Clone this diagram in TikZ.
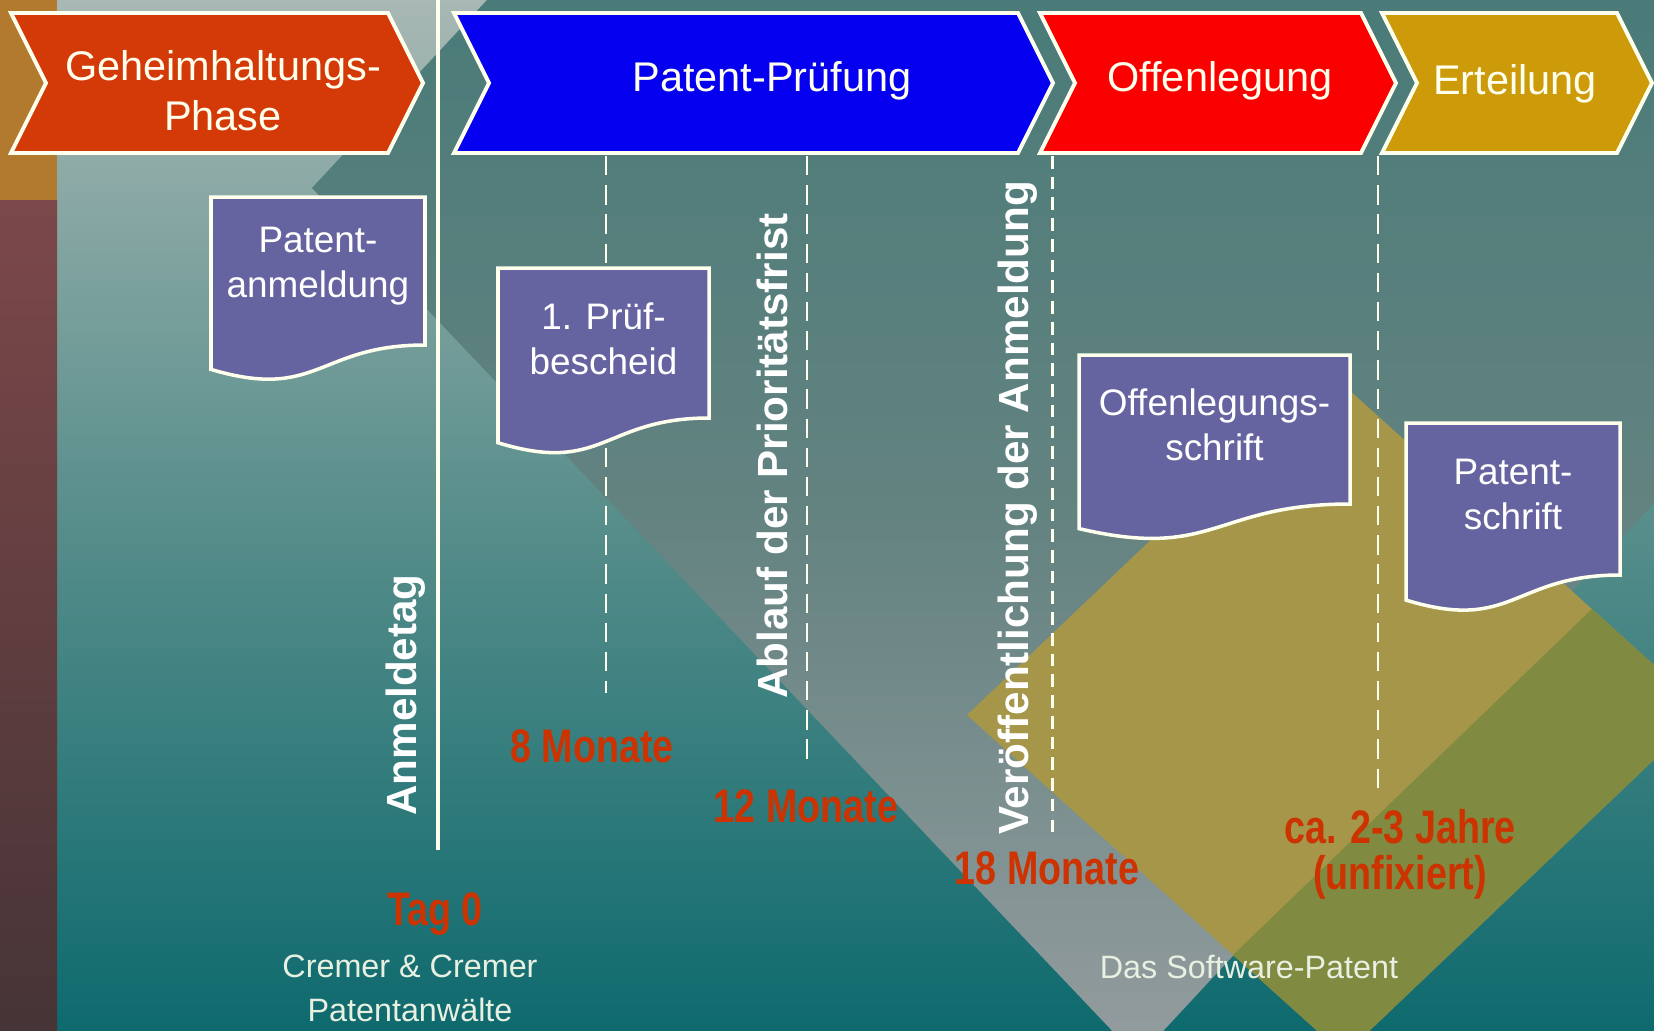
\documentclass[tikz,border=0pt]{standalone}
\usepackage{fontspec}
\setmainfont{Liberation Sans}
\usetikzlibrary{positioning}
\definecolor{cream}{RGB}{255,255,238}
\definecolor{bgTop}{RGB}{168,184,180}
\definecolor{bgMid}{RGB}{88,142,139}
\definecolor{bgLow}{RGB}{14,106,110}
\definecolor{grayTop}{RGB}{74,123,120}
\definecolor{grayMid}{RGB}{100,131,129}
\definecolor{grayLow}{RGB}{148,156,158}
\definecolor{goldBand}{RGB}{166,150,74}
\definecolor{oliveBand}{RGB}{128,138,64}
\definecolor{stripOrange}{RGB}{178,122,46}
\definecolor{stripTop}{RGB}{124,72,74}
\definecolor{stripLow}{RGB}{70,52,54}
\definecolor{phaseOrange}{RGB}{212,58,8}
\definecolor{phaseBlue}{RGB}{6,0,240}
\definecolor{phaseRed}{RGB}{250,0,0}
\definecolor{phaseGold}{RGB}{205,155,10}
\definecolor{docFill}{RGB}{102,100,160}
\definecolor{monthRed}{RGB}{204,51,0}
\definecolor{footGray}{RGB}{232,240,226}

\newcommand{\narrow}[1]{\scalebox{0.8}[1]{#1}}

% chevron: name, left, right, fill, text x, text y, text
\newcommand{\phasebox}[7]{%
  \fill[#4, draw=cream, line width=1.1pt]
    (#2,-0.13) -- (#3,-0.13) -- ({#3+0.35},-0.83) -- (#3,-1.53)
    -- (#2,-1.53) -- ({#2+0.35},-0.83) -- cycle;
  \node[phasetext] (#1) at (#5,#6) {#7};
}

% document shape: name, left, top, width, text height, text
\newcommand{\docbox}[6]{%
  \pgfmathsetmacro{\docR}{#2+#4}
  \pgfmathsetmacro{\docM}{#2+0.5*#4}
  \pgfmathsetmacro{\docB}{#3-#5}
  \pgfmathsetmacro{\docL}{#3-1.165*#5}
  \pgfmathsetmacro{\docC}{#3-1.380*#5}
  \pgfmathsetmacro{\docT}{#3-0.47*#5}
  \fill[docFill, draw=cream, line width=1pt] (#2,#3) -- (\docR,#3) -- (\docR,\docB)
    .. controls (\docM,\docB) and (\docM,\docC) .. (#2,\docL) -- cycle;
  \node[doctext] (#1) at (\docM,\docT) {#6};
}

\begin{document}
\begin{tikzpicture}[
    phasetext/.style={text=cream, inner sep=0pt, align=center, font=\fontsize{11.8}{14.2}\selectfont},
    doctext/.style={text=white, inner sep=0pt, align=center, font=\fontsize{10.5}{12.8}\selectfont},
    vlabel/.style={text=white, inner sep=0pt, rotate=90, font=\bfseries\fontsize{12}{14}\selectfont},
    monthlabel/.style={text=monthRed, inner sep=0pt, align=center, font=\bfseries\fontsize{13.4}{13}\selectfont},
    footlabel/.style={text=footGray, inner sep=0pt, align=center, font=\fontsize{9.2}{12.5}\selectfont},
    markline/.style={cream, line width=0.6pt, dash pattern=on 5.5pt off 2.8pt}
]
    \useasboundingbox (0,0) rectangle (16.54,-10.30);

    % Background
    \begin{scope}
        \clip (0,0) rectangle (16.54,-10.30);
        \shade[top color=bgTop, bottom color=bgLow, middle color=bgMid] (0,0) rectangle (16.54,-10.30);
        \fill[stripOrange] (0,0) rectangle (0.57,-2.00);
        \shade[top color=stripTop, bottom color=stripLow] (0,-2.00) rectangle (0.57,-10.30);
        % diagonal bands
        \shade[top color=grayTop, bottom color=grayLow, middle color=grayMid]
            (4.87,0) -- (3.12,-1.88) -- (11.38,-10.58) -- (19.47,-1.88) -- (17.68,0) -- cycle;
        \fill[goldBand] (9.67,-7.15) -- (13.28,-3.71) -- (17.05,-7.11) -- (13.44,-10.55) -- cycle;
        \fill[oliveBand] (12.33,-9.55) -- (15.92,-6.09) -- (17.05,-7.11) -- (13.44,-10.55) -- cycle;
    \end{scope}

    % Time marks
    \coordinate (day0top) at (4.38,0);
    \coordinate (day0low) at (4.38,-8.50);
    \draw[cream, line width=1.4pt] (day0top) -- (day0low);
    \foreach \x/\y in {6.06/6.93, 8.07/7.62, 13.78/7.89}
        \draw[markline] (\x,-1.56) -- (\x,-\y);
    \draw[markline, line width=0.85pt, dash pattern=on 3.6pt off 2.3pt] (10.52,-1.56) -- (10.52,-8.37);

    % Documents
    \docbox{anm}{2.11}{-1.97}{2.14}{1.48}{Patent-\\anmeldung}
    \docbox{pruef}{4.98}{-2.68}{2.11}{1.50}{1. Prüf-\\bescheid}
    \docbox{offs}{10.79}{-3.55}{2.71}{1.49}{Offenlegungs-\\schrift}
    \docbox{pats}{14.06}{-4.23}{2.14}{1.52}{Patent-\\schrift}

    % Phases
    \phasebox{secret}{0.11}{3.88}{phaseOrange}{2.23}{-0.91}{Geheimhaltungs-\\Phase}
    \phasebox{exam}{4.54}{10.18}{phaseBlue}{7.72}{-0.81}{Patent-Prüfung}
    \phasebox{disclose}{10.40}{13.61}{phaseRed}{12.20}{-0.81}{Offenlegung}
    \phasebox{grant}{13.82}{16.17}{phaseGold}{15.15}{-0.84}{Erteilung}

    % Events
    \node[vlabel] (tag) at (4.06,-6.95) {Anmeldetag};
    \node[vlabel] (frist) at (7.72,-4.56) {Ablauf der Prioritätsfrist};
    \node[vlabel] (publ) at (10.18,-5.08) {Veröffentlichung der Anmeldung};

    % Durations
    \node[monthlabel, anchor=base] (m0) at (4.35,-9.25) {\narrow{Tag 0}};
    \node[monthlabel, anchor=base] (m8) at (5.92,-7.62) {\narrow{8 Monate}};
    \node[monthlabel, anchor=base] (m12) at (8.06,-8.22) {\narrow{12 Monate}};
    \node[monthlabel, anchor=base] (m18) at (10.47,-8.84) {\narrow{18 Monate}};
    \node[monthlabel] (jahre) at (14.00,-8.54) {\narrow{ca. 2-3 Jahre}\\\narrow{(unfixiert)}};

    % Footer
    \node[footlabel] (firm) at (4.10,-9.88) {Cremer \& Cremer\\Patentanwälte};
    \node[footlabel, anchor=base] (title) at (12.49,-9.78) {Das Software-Patent};
\end{tikzpicture}
\end{document}
